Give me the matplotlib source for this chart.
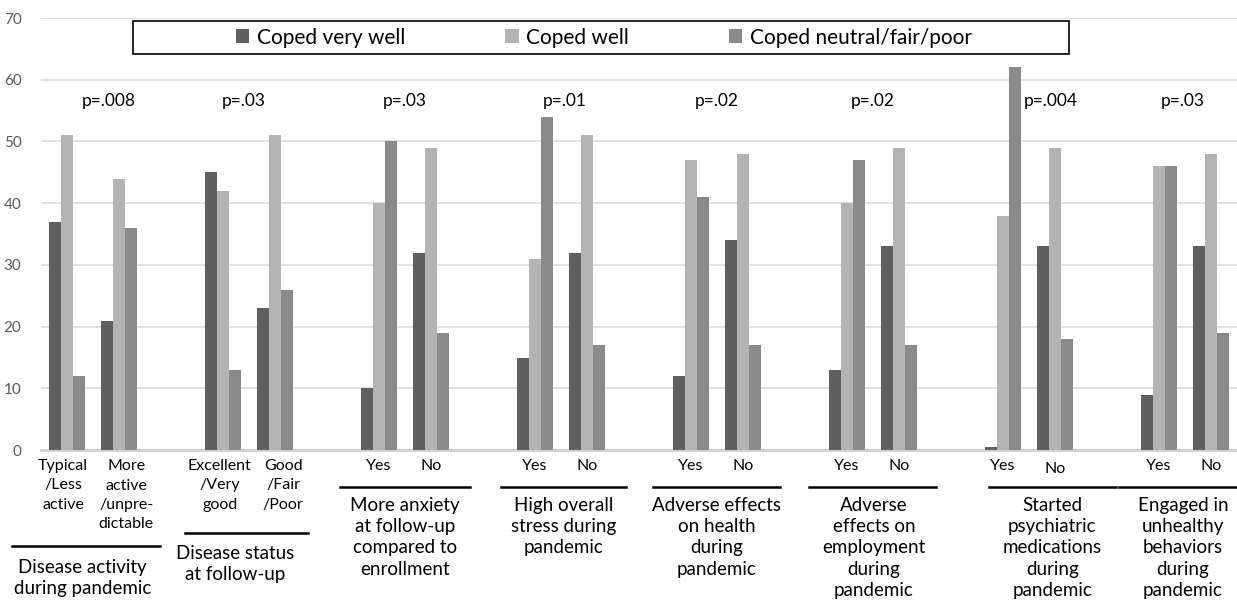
import numpy as np
import matplotlib
matplotlib.use("Agg")
import matplotlib.pyplot as plt
import matplotlib.transforms as mtransforms
from matplotlib.patches import Rectangle

plt.rcParams['font.family'] = ['Lato', 'DejaVu Sans']

# data
series_names = ["Coped very well", "Coped well", "Coped neutral/fair/poor"]
very_well = [37, 21, 45, 23, 10, 32, 15, 32, 12, 34, 13, 33, 0.5, 33, 9, 33]
well = [51, 44, 42, 51, 40, 49, 31, 51, 47, 48, 40, 49, 38, 49, 46, 48]
neutral = [12, 36, 13, 26, 50, 19, 54, 17, 41, 17, 47, 17, 62, 18, 46, 19]
sub_labels = ["Typical\n/Less\nactive", "More\nactive\n/unpre-\ndictable",
              "Excellent\n/Very\ngood", "Good\n/Fair\n/Poor",
              "Yes", "No", "Yes", "No", "Yes", "No", "Yes", "No",
              "Yes", "No", "Yes", "No"]
group_labels = ["Disease activity\nduring pandemic",
                "Disease status\nat follow-up",
                "More anxiety\nat follow-up\ncompared to\nenrollment",
                "High overall\nstress during\npandemic",
                "Adverse effects\non health\nduring\npandemic",
                "Adverse\neffects on\nemployment\nduring\npandemic",
                "Started\npsychiatric\nmedications\nduring\npandemic",
                "Engaged in\nunhealthy\nbehaviors\nduring\npandemic"]
p_values = ["p=.008", "p=.03", "p=.03", "p=.01", "p=.02", "p=.02", "p=.004", "p=.03"]

colors = ["#5f5f5f", "#b3b3b3", "#8a8a8a"]

# each group: two clusters + one empty slot
n_groups = len(group_labels)
x = np.array([g * 3 + k for g in range(n_groups) for k in range(2)], dtype=float)
group_centers = np.arange(n_groups) * 3 + 0.5

fig = plt.figure(figsize=(12.37, 6.01), dpi=100)
ax = fig.add_axes([0.033, 0.251, 0.967, 0.719])

w = 0.232
for i, (vals, c) in enumerate(zip([very_well, well, neutral], colors)):
    ax.bar(x + (i - 1) * w, vals, width=w, color=c, label=series_names[i], zorder=3)

ax.set_xlim(-0.5, 22.5)
ax.set_ylim(0, 70)
ax.set_yticks(range(0, 71, 10))
ax.yaxis.grid(True, color="#d9d9d9", linewidth=1.2, zorder=0)
for s in ["top", "right", "left"]:
    ax.spines[s].set_visible(False)
ax.spines["bottom"].set_color("#d0d0d0")
ax.spines["bottom"].set_linewidth(2)
ax.tick_params(axis="y", length=0, labelsize=11, labelcolor="#595959", pad=14)
ax.tick_params(axis="x", length=0)
ax.set_xticks([])

# p values
p_dx = [0.3, -0.1, 0, 0.08, 0, 0, 0.42, -0.04]
for gc, p, dx in zip(group_centers, p_values, p_dx):
    ax.text(gc + dx, 56.5, p, ha="center", va="center", fontsize=12.5)

# labels below the axis
tr = mtransforms.blended_transform_factory(ax.transData, fig.transFigure)
def fy(py):
    return 1 - py / 601.0

sub_dx = [-0.07, 0.14, -0.06, 0.16] + [0] * 12
sub_dy = [0] * 12 + [0, 3, 0, 0]
for xi, lab, dx, dy in zip(x, sub_labels, sub_dx, sub_dy):
    ax.text(xi + dx, fy(459 + dy), lab, transform=tr, ha="center", va="top",
            fontsize=11.5, linespacing=1.5)

line_y = [546, 533, 487, 487, 487, 487, 487, 487]
line_half = [1.42, 1.18, 1.25, 1.2, 1.22, 1.22, 1.22, 1.22]
line_dx = [-0.13, -0.05, 0, 0.05, 0, 0, 0.45, -0.05]
label_dx = [-0.2, -0.27, 0, 0.05, 0, 0.02, 0.45, -0.04]
label_gap = [13, 12, 10, 10, 10, 10, 10, 10]
for g in range(n_groups):
    cx = group_centers[g] + line_dx[g]
    ax.plot([cx - line_half[g], cx + line_half[g]], [fy(line_y[g])] * 2,
            transform=tr, color="black", linewidth=1.8, clip_on=False)
    ax.text(group_centers[g] + label_dx[g], fy(line_y[g] + label_gap[g]), group_labels[g],
            transform=tr, ha="center", va="top", fontsize=13.5, linespacing=1.3)

# legend with its own frame
leg = fig.legend(loc="center", bbox_to_anchor=(0.488, fy(37.5)), ncol=3,
                 frameon=False, fontsize=15, handlelength=0.65, handleheight=0.65,
                 handletextpad=0.35, columnspacing=4.8)
fig.patches.append(Rectangle((133 / 1237, fy(54)), (1069 - 133) / 1237, 33 / 601,
                             transform=fig.transFigure, fill=True, facecolor="white",
                             edgecolor="black", linewidth=1.2, zorder=1))
leg.set_zorder(5)

fig.savefig("out.png", dpi=100)
